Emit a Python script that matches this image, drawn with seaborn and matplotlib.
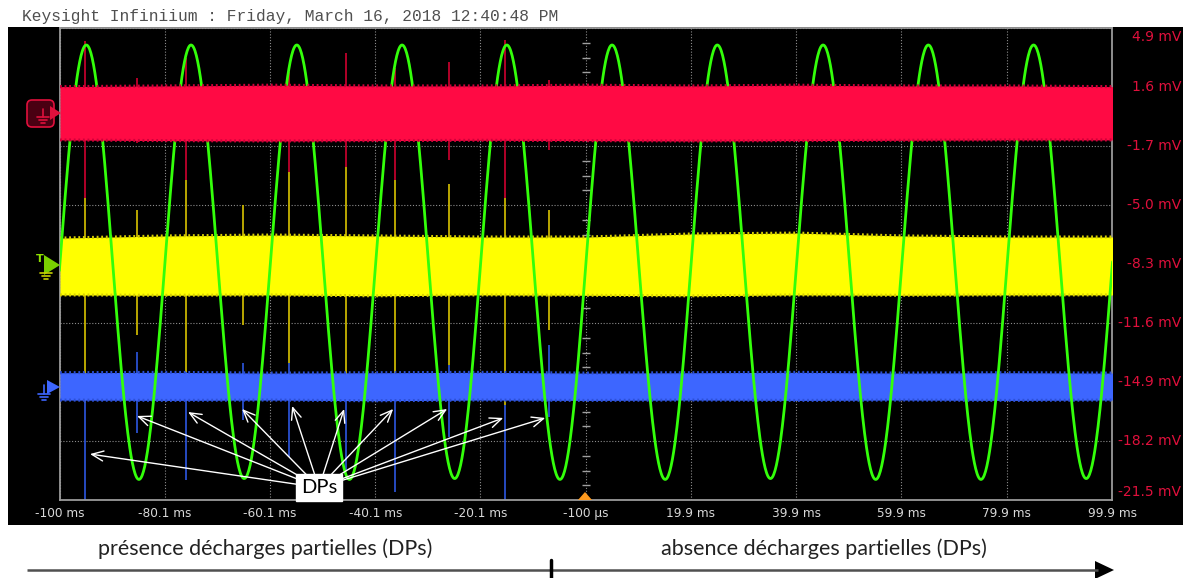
import numpy as np
import pandas as pd
import matplotlib
matplotlib.use('Agg')
import matplotlib.pyplot as plt
import matplotlib.transforms as mtransforms
from matplotlib.patches import Rectangle, FancyBboxPatch, Polygon
import seaborn as sns


XTICKS = [-100, -80.1, -60.1, -40.1, -20.1, -0.1, 19.9, 39.9, 59.9, 79.9, 99.9]
XTICK_LABELS = ['-100 ms', '-80.1 ms', '-60.1 ms', '-40.1 ms', '-20.1 ms', '-100 µs',
                '19.9 ms', '39.9 ms', '59.9 ms', '79.9 ms', '99.9 ms']
YTICKS = [4.9, 1.6, -1.7, -5.0, -8.3, -11.6, -14.9, -18.2, -21.5]
YTICK_LABELS = ['4.9 mV', '1.6 mV', '-1.7 mV', '-5.0 mV', '-8.3 mV',
                '-11.6 mV', '-14.9 mV', '-18.2 mV', '-21.5 mV']

# tension 50 Hz (vert) : extrema lus (ms, mV)
PEAK_T = [-95.0, -75.1, -55.0, -35.0, -15.1, 4.9, 24.9, 45.0, 65.0, 85.0, 105.0]
PEAK_V = [3.95, 3.95, 3.95, 3.95, 3.95, 3.95, 3.95, 3.95, 3.95, 3.95, 3.95]
TROUGH_T = [-105.0, -85.0, -65.0, -45.0, -25.0, -5.0, 15.0, 35.0, 55.0, 75.0, 95.0]
TROUGH_V = [-20.35, -20.35, -20.3, -20.35, -20.3, -20.35, -20.35, -20.3, -20.35, -20.35, -20.3]

# enveloppes du bruit des trois voies, toutes les 20 ms
BAND_T = [-100, -80, -60, -40, -20, 0, 20, 40, 60, 80, 100]
RED_TOP = [1.62, 1.66, 1.70, 1.66, 1.66, 1.70, 1.66, 1.70, 1.66, 1.66, 1.62]
RED_BOT = [-1.36, -1.40, -1.42, -1.40, -1.38, -1.40, -1.42, -1.40, -1.38, -1.36, -1.36]
YEL_TOP = [-6.85, -6.73, -6.68, -6.73, -6.79, -6.79, -6.62, -6.57, -6.73, -6.79, -6.79]
YEL_BOT = [-10.03, -10.05, -10.03, -10.08, -10.03, -10.05, -10.08, -10.03, -10.05, -10.03, -10.03]
BLU_TOP = [-14.38, -14.36, -14.40, -14.38, -14.36, -14.40, -14.38, -14.36, -14.40, -14.38, -14.40]
BLU_BOT = [-15.91, -15.93, -15.91, -15.95, -15.91, -15.93, -15.91, -15.93, -15.91, -15.93, -15.91]

# décharges partielles (DPs) : instants et étendue des pics sur chaque voie
DP_T = [-95.25, -85.36, -76.05, -65.21, -56.46, -45.63, -36.31, -26.05, -15.40, -7.04]
DP_RED = [(4.17, -4.61), (2.10, -1.53), (3.22, -3.60), None, (2.44, -3.15),
          (3.50, -2.87), (2.66, -3.60), (3.00, -2.48), (4.23, -4.61), (1.99, -1.92)]
DP_YEL = [(-4.61, -16.07), (-5.28, -12.27), (-3.60, -14.68), (-5.00, -11.71), (-3.15, -13.84),
          (-2.87, -15.35), (-3.60, -15.18), (-3.83, -13.95), (-4.61, -16.19), (-5.28, -11.99)]
DP_BLU = [(-15.91, -21.5), (-13.22, -17.75), (-14.34, -20.38), (-13.84, -17.03), (-13.84, -19.09),
          (-15.35, -19.82), (-15.18, -21.05), (-13.95, -17.98), (-16.19, -21.5), (-12.83, -16.86)]

# flèches "DPs" (cibles en ms, mV)
ARROW_T = [-94.3, -85.36, -75.67, -65.40, -55.89, -46.01, -36.69, -26.43, -15.78, -7.80]
ARROW_V = [-18.93, -16.80, -16.58, -16.41, -16.24, -16.41, -16.41, -16.41, -16.91, -16.91]
LABEL_POS = (-50.8, -20.8)

C_RED, C_YEL, C_BLU, C_GRN = '#ff0a44', '#ffff00', '#3d66ff', '#33ff0a'
C_LBL = '#e0103c'


def sine_from_extrema(t_ext, v_ext, n=80):
    """Demi-cosinus entre extrema successifs."""
    order = np.argsort(t_ext)
    t_ext, v_ext = np.asarray(t_ext)[order], np.asarray(v_ext)[order]
    ts, vs = [], []
    for i in range(len(t_ext) - 1):
        s = np.linspace(0, 1, n, endpoint=False)
        ts.append(t_ext[i] + s * (t_ext[i + 1] - t_ext[i]))
        vs.append(v_ext[i + 1] + (v_ext[i] - v_ext[i + 1]) * (1 + np.cos(np.pi * s)) / 2)
    return np.concatenate(ts), np.concatenate(vs)


sns.set_theme(style='dark', rc={'axes.facecolor': 'black'})
plt.rcParams['font.family'] = ['DejaVu Sans']

W, H = 1183, 578
fig = plt.figure(figsize=(W / 100, H / 100), dpi=100)
fig.patch.set_facecolor('white')
fig.add_artist(Rectangle((8 / W, 1 - 525 / H), (W - 8) / W, (525 - 27) / H,
                         transform=fig.transFigure, facecolor='black',
                         edgecolor='none', zorder=-1))

ax = fig.add_axes([60 / W, 1 - 500 / H, 1052 / W, 472 / H])
ax.set_facecolor('black')

# bandes de bruit
ax.fill_between(BAND_T, YEL_TOP, YEL_BOT, color=C_YEL, lw=0, zorder=3)
ax.fill_between(BAND_T, BLU_TOP, BLU_BOT, color=C_BLU, lw=0, zorder=3)
ax.fill_between(BAND_T, RED_TOP, RED_BOT, color=C_RED, lw=0, zorder=5)
for top, bot, c, z in [(YEL_TOP, YEL_BOT, '#d8d000', 3), (BLU_TOP, BLU_BOT, '#2c50d8', 3),
                       (RED_TOP, RED_BOT, '#d0003a', 5)]:
    for edge in (top, bot):
        ax.plot(BAND_T, edge, color=c, lw=2.2, ls=(0, (0.6, 0.9)), zorder=z)

# pics de DPs
for t, r, y, b in zip(DP_T, DP_RED, DP_YEL, DP_BLU):
    if r is not None:
        ax.vlines(t, r[1], r[0], color='#c0002c', lw=1.3, zorder=2)
    ax.vlines(t, y[1], y[0], color='#c8b400', lw=1.3, zorder=2)
    ax.vlines(t, b[1], b[0], color='#2a50d0', lw=1.3, zorder=2)

# tension 50 Hz
ext_t = PEAK_T + TROUGH_T
ext_v = PEAK_V + TROUGH_V
gt, gv = sine_from_extrema(ext_t, ext_v)
df = pd.DataFrame({'t': gt, 'v': gv})
sns.lineplot(data=df, x='t', y='v', ax=ax, color=C_GRN, lw=2.0,
             estimator=None, sort=False, zorder=4)

ax.set_xlim(-100, 99.9)
ax.set_ylim(-21.5, 4.9)
ax.set_xticks(XTICKS)
ax.set_yticks(YTICKS)
ax.set_xticklabels([])
ax.set_yticklabels([])
ax.tick_params(length=0)
ax.set_xlabel('')
ax.set_ylabel('')
ax.grid(True, color='#8c8c8c', lw=0.8, ls=(0, (1, 1.6)))
for s in ax.spines.values():
    s.set_visible(True)
    s.set_color('#9a9a9a')
    s.set_linewidth(1.3)

# graduations de l'axe central
minor = []
for a, b in zip(YTICKS[:-1], YTICKS[1:]):
    minor += list(np.linspace(a, b, 5)[1:-1])
ax.plot([XTICKS[5]] * len(minor), minor, ls='none', marker='_', ms=6,
        mew=1.0, color='#a0a0a0', zorder=2)

# libellés des axes
for t, lab in zip(XTICKS, XTICK_LABELS):
    ax.text(t, -0.028, lab, transform=ax.get_xaxis_transform(), ha='center',
            va='center', color='#d8d8d8', fontsize=8.7, family='DejaVu Sans')
ytr = mtransforms.blended_transform_factory(fig.transFigure, ax.transData)
for i, (v, lab) in enumerate(zip(YTICKS, YTICK_LABELS)):
    dy = -9 if i == 0 else (8 if i == len(YTICKS) - 1 else 0)
    tr = mtransforms.offset_copy(ytr, fig=fig, y=dy, units='dots')
    fig.text(1181 / W, v, lab, transform=tr, ha='right', va='center',
             color=C_LBL, fontsize=10, family='DejaVu Sans')

# annotations DPs
for t, v in zip(ARROW_T, ARROW_V):
    ax.annotate('', xy=(t, v), xytext=LABEL_POS, annotation_clip=False, zorder=8,
                arrowprops=dict(arrowstyle='->,head_length=0.7,head_width=0.3',
                                color='white', lw=1.0, shrinkA=0, shrinkB=0))
ax.text(*LABEL_POS, 'DPs', ha='center', va='center', fontsize=14.5, color='black',
        family='Lato', zorder=10, clip_on=False,
        bbox=dict(boxstyle='square,pad=0.25', fc='white', ec='white'))

# surcouche en pixels : en-tête, icônes, texte et flèche du bas
ov = fig.add_axes([0, 0, 1, 1], zorder=5)
ov.set_xlim(0, W)
ov.set_ylim(H, 0)
ov.axis('off')
ov.patch.set_alpha(0)

ov.text(22, 17, 'Keysight Infiniium : Friday, March 16, 2018 12:40:48 PM',
        family='Liberation Mono', fontsize=11.7, color='#505050', va='center')

# icône voie rouge
ov.add_patch(FancyBboxPatch((27, 100), 27, 27, boxstyle='round,pad=0,rounding_size=5',
                            fc='#4a0012', ec=C_LBL, lw=1.2))
ov.add_patch(Polygon([(50, 106), (61, 113), (50, 120)], fc=C_LBL, ec='none'))
for yy, hw in [(117, 6), (120, 4), (123, 2)]:
    ov.plot([43 - hw, 43 + hw], [yy, yy], color=C_LBL, lw=1.2)
ov.plot([43, 43], [109, 117], color=C_LBL, lw=1.2)
# icône déclenchement / voie jaune
ov.add_patch(Polygon([(44, 255), (60, 265), (44, 275)], fc='#7ad000', ec='none'))
ov.text(40, 259, 'T', color='#8ee000', fontsize=8, ha='center', va='center', weight='bold')
for yy, hw in [(273, 6), (276, 4), (279, 2)]:
    ov.plot([46 - hw, 46 + hw], [yy, yy], color='#c8d000', lw=1.2)
# icône voie bleue
ov.add_patch(Polygon([(47, 380), (60, 387), (47, 394)], fc=C_BLU, ec='none'))
for yy, hw in [(394, 6), (397, 4), (400, 2)]:
    ov.plot([44 - hw, 44 + hw], [yy, yy], color=C_BLU, lw=1.2)
ov.plot([44, 44], [385, 394], color=C_BLU, lw=1.2)
# repère de déclenchement
ov.add_patch(Polygon([(578, 500), (592, 500), (585, 492)], fc='#ff9a1e', ec='none'))

ov.text(265, 549, 'présence décharges partielles (DPs)', ha='center', va='center',
        fontsize=15.5, family='Lato', color='#222222')
ov.text(824, 549, 'absence décharges partielles (DPs)', ha='center', va='center',
        fontsize=15.5, family='Lato', color='#222222')
ov.plot([27, 1098], [570, 570], color='#505050', lw=1.8, solid_capstyle='butt')
ov.add_patch(Polygon([(1095, 561), (1114, 570), (1095, 579)], fc='black', ec='none'))
ov.plot([551, 551], [560, 578], color='black', lw=2.5)

fig.savefig('out.png', dpi=100)
